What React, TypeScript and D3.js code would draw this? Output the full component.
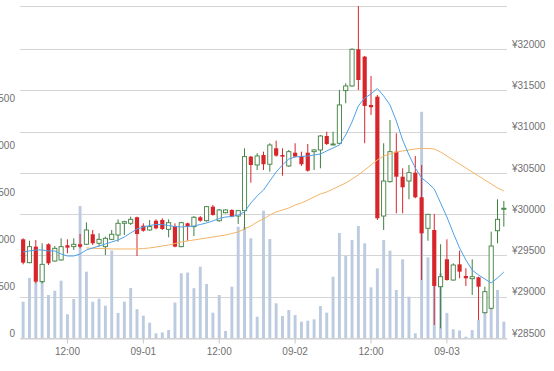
import React, {useEffect, useRef} from 'react';
import * as d3 from "d3";

// hourly candles, first one is 08-31 05:00
const firstHour = new Date(2017, 7, 31, 5)

const opens = [29695, 29412, 29606, 29182, 29635, 29432, 29445, 29623, 29606, 29635,
    29635, 29756, 29647, 29606, 29695, 29747, 29889, 29889, 29962, 29860,
    29808, 29920, 29929, 29816, 29856, 29606, 29889, 29848, 29962, 29920,
    30090, 29920, 30017, 30050, 29977, 30042, 30696, 30595, 30716, 30604,
    30797, 30716, 30583, 30744, 30704, 30744, 30756, 30777, 30946, 30837,
    30858, 31495, 31552, 31996, 31907, 31322, 31422, 29977, 30393, 30756,
    30453, 30401, 30502, 30204, 29828, 29808, 29121, 29453, 29202, 29392,
    29251, 29218, 29235, 28806, 28860, 29799, 30059]
const closes = [29412, 29606, 29182, 29392, 29405, 29586, 29606, 29594, 29635, 29606,
    29808, 29647, 29695, 29707, 29756, 29889, 29908, 29937, 29759, 29799,
    29848, 29828, 29820, 29896, 29606, 29896, 29848, 29962, 29920, 30090,
    29990, 30050, 30050, 29969, 30042, 30696, 30595, 30704, 30604, 30837,
    30708, 30696, 30756, 30696, 30604, 30526, 30777, 30946, 30849, 30849,
    31322, 31552, 31996, 31624, 31310, 31294, 29950, 30401, 30756, 30453,
    30325, 30502, 30204, 29768, 29998, 29130, 29242, 29202, 29384, 29303,
    29223, 29242, 29121, 29061, 29614, 29937, 30071]
const highs = [29707, 29678, 29687, 29647, 29647, 29614, 29707, 29695, 29707, 29759,
    29901, 29808, 29768, 29727, 29808, 29937, 29920, 29969, 29969, 29889,
    29929, 29937, 29950, 29937, 29889, 29908, 29896, 29977, 29977, 30099,
    30111, 30062, 30058, 30058, 30050, 30797, 30704, 30737, 30756, 30858,
    30889, 30797, 30777, 30858, 30756, 30849, 30785, 30958, 30998, 30998,
    31503, 31584, 32008, 32520, 31915, 31673, 31443, 30858, 31140, 30979,
    30555, 30595, 30704, 30595, 29998, 30002, 29635, 29695, 29405, 29557,
    29344, 29453, 29242, 29121, 29787, 30180, 30159]
const lows = [29392, 29405, 29162, 29162, 29384, 29424, 29436, 29526, 29566, 29586,
    29626, 29626, 29606, 29505, 29687, 29666, 29747, 29868, 29493, 29787,
    29799, 29816, 29808, 29719, 29598, 29598, 29678, 29735, 29908, 29908,
    29981, 29908, 30010, 29962, 29881, 29808, 30381, 30534, 30534, 30514,
    30696, 30465, 30571, 30688, 30583, 30514, 30534, 30555, 30837, 30837,
    30849, 31342, 31543, 31503, 30858, 31201, 29929, 29808, 30381, 30010,
    30010, 30180, 30192, 29202, 29678, 28657, 28617, 29194, 29194, 29223,
    29130, 29021, 28718, 28799, 28848, 29647, 29848]
const volumes = [387, 640, 597, 608, 458, 504, 611, 253, 416, 1407,
    707, 387, 419, 344, 933, 267, 387, 533, 307, 238,
    163, 50, 59, 85, 378, 690, 698, 531, 760, 576,
    270, 458, 75, 547, 1186, 1183, 1063, 227, 1357, 1055,
    370, 235, 298, 245, 174, 184, 199, 341, 270, 653,
    1119, 874, 1045, 1194, 1010, 540, 743, 1045, 931, 512,
    839, 440, 50, 2412, 860, 991, 690, 267, 93, 80,
    14, 85, 192, 480, 735, 512, 174]
// blue moving average
const maShort = [29541, 29554, 29566, 29566, 29554, 29554, 29517, 29493, 29493, 29517,
    29566, 29590, 29614, 29638, 29663, 29687, 29723, 29772, 29820, 29844,
    29862, 29874, 29874, 29862, 29850, 29844, 29850, 29856, 29874, 29893,
    29917, 29947, 29965, 29971, 29990, 30026, 30135, 30220, 30292, 30401,
    30510, 30595, 30668, 30692, 30698, 30704, 30716, 30728, 30765, 30801,
    30837, 30958, 31116, 31310, 31406, 31455, 31521, 31431, 31322, 31128,
    30898, 30716, 30559, 30438, 30377, 30304, 30135, 29965, 29772, 29590,
    29445, 29323, 29263, 29214, 29166, 29227, 29299]
// orange moving average
const maLong = [null, null, null, null, null, null, null, null, null, null,
    29590, 29586, 29584, 29581, 29578, 29578, 29578, 29578, 29578, 29584,
    29590, 29602, 29614, 29626, 29644, 29663, 29675, 29687, 29699, 29711,
    29723, 29735, 29747, 29765, 29784, 29820, 29856, 29905, 29941, 29990,
    30026, 30050, 30074, 30111, 30135, 30171, 30208, 30244, 30268, 30304,
    30341, 30377, 30425, 30474, 30534, 30595, 30656, 30704, 30728, 30752,
    30765, 30777, 30789, 30795, 30795, 30789, 30752, 30704, 30656, 30607,
    30559, 30510, 30462, 30413, 30365, 30317, 30280]

const priceTicks = [28500, 29000, 29500, 30000, 30500, 31000, 31500, 32000]
const volumeTicks = [0, 500, 1000, 1500, 2000, 2500]

const width = 554
const height = 371
const left = 20, right = 507, top = 6, bottom = 338

const App = () => {
    const svgRef = useRef(null)

    useEffect(() => {
        const svg = d3.select(svgRef.current)
        svg.selectAll("*").remove()

        const idx = d3.range(opens.length)
        const hours = idx.map(i => d3.timeHour.offset(firstHour, i))

        const x = d3.scaleBand().domain(idx).range([left, right])
        const cx = i => x(i) + x.bandwidth() / 2
        const yPrice = d3.scaleLinear().domain([28500, 32520]).range([bottom, top])
        const yVol = d3.scaleLinear().domain([0, 3540]).range([bottom, top])

        //grid
        svg.append("g")
            .selectAll("line")
            .data([...priceTicks, 32520])
            .join("line")
            .attr("x1", left).attr("x2", right)
            .attr("y1", d => Math.round(yPrice(d)) + 0.5)
            .attr("y2", d => Math.round(yPrice(d)) + 0.5)
            .attr("stroke", "#d4d4d4")

        //volume
        const vw = x.bandwidth() * 0.46
        svg.append("g")
            .selectAll("rect")
            .data(volumes)
            .join("rect")
            .attr("x", (d, i) => cx(i) - vw / 2)
            .attr("width", vw)
            .attr("y", d => yVol(d))
            .attr("height", d => yVol(0) - yVol(d))
            .attr("fill", "#bccbe0")

        //candles
        const bw = x.bandwidth() * 0.66
        const up = "#3f7f3f", down = "#d7262b"
        const candle = svg.append("g")
            .selectAll("g")
            .data(idx)
            .join("g")
        candle.append("line")
            .attr("x1", i => cx(i)).attr("x2", i => cx(i))
            .attr("y1", i => yPrice(highs[i]))
            .attr("y2", i => yPrice(lows[i]))
            .attr("stroke", i => closes[i] >= opens[i] ? up : down)
            .attr("stroke-width", 1)
        candle.append("rect")
            .attr("x", i => cx(i) - bw / 2)
            .attr("width", bw)
            .attr("y", i => yPrice(Math.max(opens[i], closes[i])))
            .attr("height", i => Math.max(1, Math.abs(yPrice(opens[i]) - yPrice(closes[i]))))
            .attr("fill", i => closes[i] >= opens[i] ? "#fff" : down)
            .attr("stroke", i => closes[i] >= opens[i] ? up : "none")
            .attr("stroke-width", 0.9)

        //moving averages
        const line = d3.line()
            .defined(d => d != null)
            .x((d, i) => cx(i))
            .y(d => yPrice(d))
        svg.append("path")
            .attr("d", line(maLong))
            .attr("fill", "none")
            .attr("stroke", "#f5b465")
            .attr("stroke-width", 1)
        svg.append("path")
            .attr("d", line(maShort))
            .attr("fill", "none")
            .attr("stroke", "#4fa0ea")
            .attr("stroke-width", 1)

        //axes
        const xAxis = d3.axisBottom(x)
            .tickValues(idx.filter(i => hours[i].getHours() % 12 === 0))
            .tickFormat(i => hours[i].getHours() === 0
                ? d3.timeFormat("%m-%d")(hours[i])
                : d3.timeFormat("%H:%M")(hours[i]))
            .tickSize(5)
            .tickSizeOuter(0)
        const gx = svg.append("g")
            .attr("transform", `translate(0, ${bottom + 0.5})`)
            .call(xAxis)
        gx.select(".domain").attr("stroke", "#cfcfcf")
        gx.selectAll(".tick line").attr("stroke", "#c8c8c8")
        gx.selectAll("text").attr("y", 9)

        const gr = svg.append("g")
            .attr("transform", `translate(${right + 5}, 0)`)
            .call(d3.axisRight(yPrice).tickValues(priceTicks).tickFormat(d => "¥" + d).tickSize(0).tickPadding(0))
        gr.select(".domain").remove()

        const gl = svg.append("g")
            .attr("transform", `translate(15, 0)`)
            .call(d3.axisLeft(yVol).tickValues(volumeTicks).tickSize(0).tickPadding(0))
        gl.select(".domain").remove()

        svg.selectAll(".tick text")
            .attr("fill", "#707070")
        gr.selectAll("text").attr("dy", "-0.18em")
        gl.selectAll("text").attr("dy", "-0.18em")
        svg.selectAll("g").filter(function () { return this.getAttribute("font-family") })
            .attr("font-family", "'Liberation Sans', Arial, sans-serif")
            .attr("font-size", 10)
    }, [])

    return (
        <div style={{position: "absolute", left: 0, top: 0}}>
            <svg ref={svgRef} width={width} height={height} style={{display: "block"}}></svg>
        </div>
    );
};

export default App;
